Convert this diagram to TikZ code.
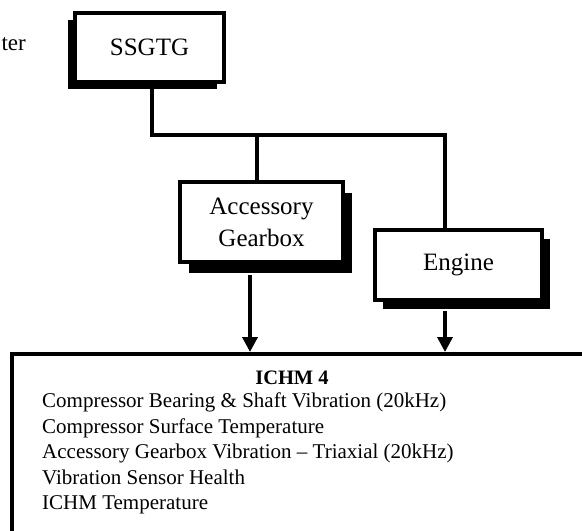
\documentclass[tikz,border=0pt]{standalone}
\usepackage{fontspec}
\setmainfont{Liberation Serif}
\usetikzlibrary{arrows.meta,positioning,shadows}
\tikzset{
  >={Triangle[length=15pt,width=15pt]},
  every node/.style={text=black},
  box/.style={draw,line width=3.5pt,fill=white,align=center,inner sep=4pt,
    font=\fontsize{25}{32}\selectfont},
  link/.style={line width=4pt},
  arrow/.style={->,line width=3.5pt},
  listtext/.style={align=left,inner sep=0pt,font=\fontsize{21}{25.5}\selectfont},
}

\begin{document}
\begin{tikzpicture}[x=1pt,y=-1pt]
  \clip (0,0) rectangle (582,531);
  \node[anchor=base east,inner sep=0pt,font=\fontsize{23}{27}\selectfont] (start) at (26,50) {ter};

  \node[box,minimum width=149pt,minimum height=69pt,
    drop shadow={shadow xshift=-7pt,shadow yshift=-7pt,fill=black,opacity=1}] (ssgtg) at (149.5,47.5) {SSGTG};
  \node[box,minimum width=163pt,minimum height=80pt,
    drop shadow={shadow xshift=9pt,shadow yshift=-11pt,fill=black,opacity=1}] (acc) at (261.5,222) {Accessory\\Gearbox};
  \node[box,minimum width=167pt,minimum height=70pt,
    drop shadow={shadow xshift=8pt,shadow yshift=-9pt,fill=black,opacity=1}] (engine) at (458.5,265) {Engine};

  % tree from the SSGTG
  \coordinate (split) at (152,135);
  \coordinate (accin) at (257,135);
  \coordinate (engin) at (445,135);
  \draw[link] ([xshift=2.5pt]ssgtg.south) |- (engin) -- (engin |- engine.north);
  \draw[link] (accin) -- (accin |- acc.north);

  % ICHM box, cut off at the right and bottom
  \node[draw,line width=3.5pt,anchor=north west,minimum width=620pt,minimum height=220pt] (ichm) at (10,352) {};
  \node[font=\fontsize{20.5}{24}\selectfont\bfseries,inner sep=0pt] (ichmtitle) at (292,378) {ICHM 4};
  \node[listtext,anchor=north west] (ichmlist) at (42,393) {%
    Compressor Bearing \& Shaft Vibration (20kHz)\\
    Compressor Surface Temperature\\
    Accessory Gearbox Vibration -- Triaxial (20kHz)\\
    Vibration Sensor Health\\
    ICHM Temperature};

  \path (acc.south) ++(-11.5pt,-11pt) coordinate (accout);
  \path (engine.south) ++(-13.5pt,-9pt) coordinate (engout);
  \draw[arrow] (accout) -- (accout |- ichm.north);
  \draw[arrow] (engout) -- (engout |- ichm.north);
\end{tikzpicture}
\end{document}
